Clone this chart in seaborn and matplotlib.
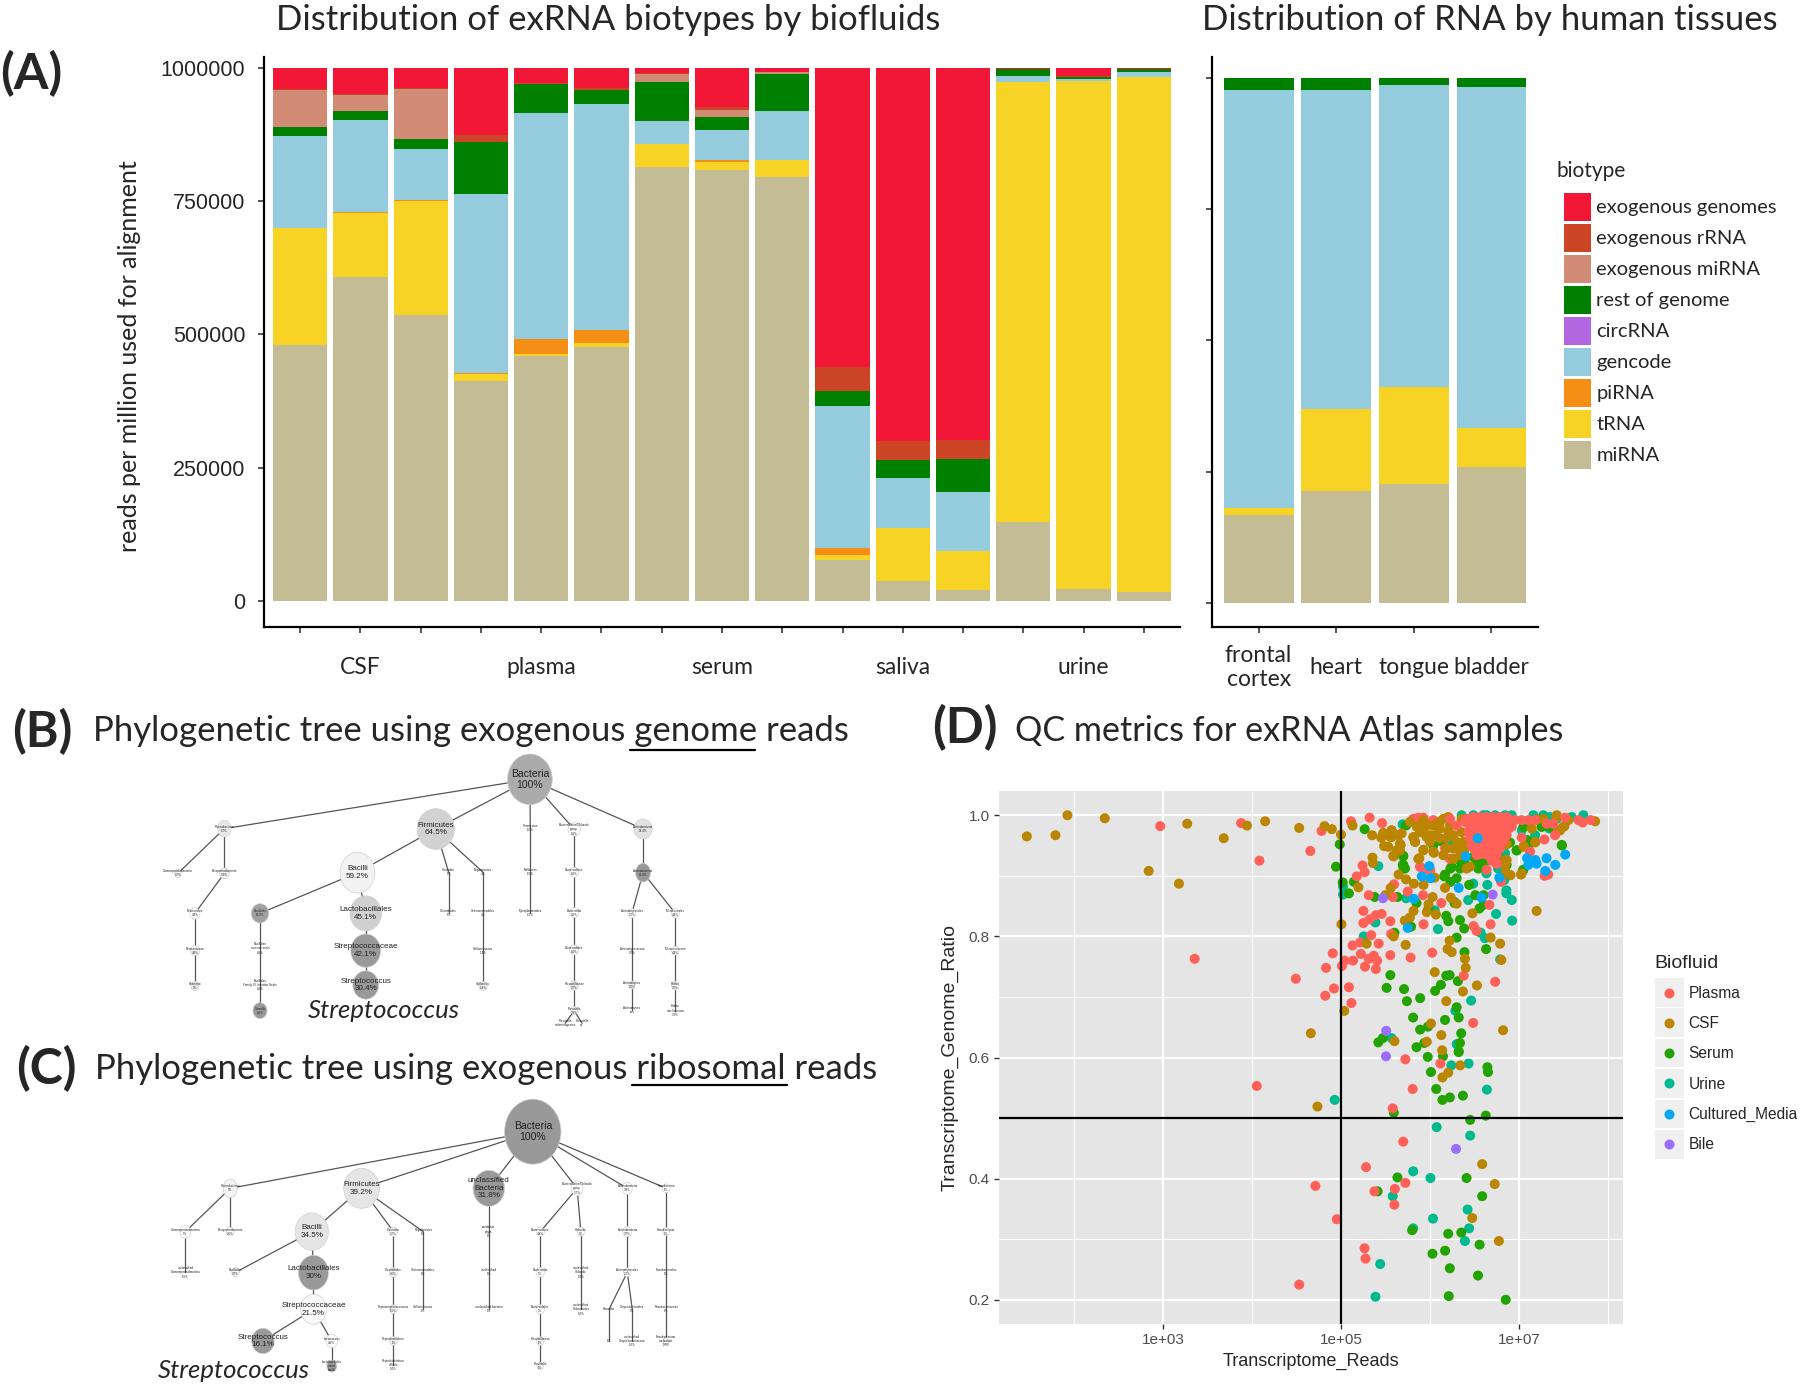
import numpy as np
import pandas as pd
import seaborn as sns
import matplotlib.pyplot as plt
from matplotlib.patches import Ellipse, Rectangle
from matplotlib.ticker import NullFormatter

sns.set_style("white")
plt.rcParams['font.family'] = ['Lato', 'DejaVu Sans']

# --- panel A data ---
biotypes = ['exogenous genomes', 'exogenous rRNA', 'exogenous miRNA', 'rest of genome',
            'circRNA', 'gencode', 'piRNA', 'tRNA', 'miRNA']
biotype_colors = ['#F21736', '#CC4527', '#D28C75', '#008000', '#B266E0',
                  '#94CCDE', '#F58E14', '#F7D325', '#C4BC94']

samples = ['CSF 1', 'CSF 2', 'CSF 3', 'plasma 1', 'plasma 2', 'plasma 3', 'serum 1', 'serum 2',
           'serum 3', 'saliva 1', 'saliva 2', 'saliva 3', 'urine 1', 'urine 2', 'urine 3']
sample_labels = ['', 'CSF', '', '', 'plasma', '', '', 'serum', '', '', 'saliva', '', '', 'urine', '']
mirna = [480000, 607000, 537000, 413000, 459000, 477000, 813000, 808000, 795000, 77500, 36600, 21500, 149000, 23000, 16000]
trna = [219000, 119500, 213000, 13000, 4000, 6000, 43000, 15000, 32000, 8000, 99400, 72500, 824000, 951000, 967000]
pirna = [0, 2000, 2000, 2000, 28000, 25000, 0, 4000, 0, 14500, 0, 0, 0, 0, 0]
gencode = [172000, 173500, 96000, 334000, 423000, 424500, 44000, 56000, 91000, 265000, 94000, 110000, 11000, 5000, 8000]
circrna = [0] * 15
rest = [18000, 17000, 18000, 99000, 55000, 25500, 73000, 24000, 69000, 28000, 35000, 63000, 13000, 3000, 6000]
exo_mirna = [69000, 29000, 94000, 0, 0, 0, 15500, 14000, 5000, 0, 0, 0, 0, 0, 0]
exo_rrna = [1000, 2000, 1000, 12000, 2000, 4000, 500, 5000, 0, 46000, 34000, 34000, 0, 2000, 0]
exo_genomes = [41000, 50000, 39000, 127000, 29000, 38000, 11000, 74000, 8000, 561000, 701000, 699000, 3000, 16000, 3000]

tissues = ['frontal\ncortex', 'heart', 'tongue', 'bladder']
t_mirna = [167000, 212000, 226000, 258500]
t_trna = [14000, 157600, 184600, 74000]
t_gencode = [797000, 608400, 575400, 649500]
t_rest = [22000, 22000, 14000, 18000]

read_ticks = [0, 250000, 500000, 750000, 1000000]

# --- panel D data: (log10 reads, ratio) ---
plasma = [(4.053, .553), (5.806, .548), (5.582, .516), (5.70, .461), (5.282, .419), (4.712, .388), (5.724, .393),
          (5.606, .383), (5.376, .379), (5.60, .357), (4.953, .333), (5.265, .285), (5.276, .268), (4.53, .225),
          (5.724, .597), (6.118, .590), (3.354, .763), (4.492, .730), (4.832, .748), (4.907, .772), (5.01, .751),
          (5.042, .760), (5.135, .760), (4.921, .714), (4.823, .702), (5.089, .716), (5.117, .690), (5.13, .785),
          (5.224, .771), (5.27, .750), (5.392, .746), (5.312, .763), (5.368, .768), (5.406, .760), (5.214, .790),
          (5.424, .788), (5.555, .769), (5.783, .765), (6.026, .773), (5.34, .802), (5.564, .804), (5.252, .822),
          (5.322, .828), (5.457, .837), (5.392, .835), (5.252, .842), (5.555, .825), (5.928, .820), (6.492, .817),
          (6.525, .809), (6.683, .820), (6.38, .735), (6.734, .725), (6.487, .657), (5.312, .868), (5.583, .865),
          (5.923, .868), (6.128, .855), (6.669, .852), (5.751, .874), (5.597, .886), (5.242, .917), (5.266, .906),
          (5.177, .899), (5.918, .912), (6.002, .909), (6.8, .89), (7.289, .90), (7.331, .902), (4.655, .941),
          (4.082, .925), (3.876, .987), (2.967, .982), (4.781, .974), (5.112, .990), (5.322, .996), (5.462, .987),
          (5.813, .994), (5.87, .996), (5.926, .996), (6.001, .986), (6.038, .992), (6.095, .986), (5.926, .91),
          (5.888, .915), (6.001, .91), (6.226, .928), (6.17, .945)]
plasma_core = [(6.226, .994), (6.301, .983), (6.413, .994), (6.488, .997), (6.563, .997), (6.638, .997), (6.713, .997),
               (6.788, .997), (6.863, .997), (6.451, .983), (6.526, .986), (6.601, .986), (6.676, .986), (6.751, .986),
               (6.826, .986), (6.882, .978), (6.488, .972), (6.563, .972), (6.638, .972), (6.713, .972), (6.788, .972),
               (6.863, .967), (6.601, .962), (6.676, .959), (6.751, .962), (6.826, .956), (6.563, .95), (6.638, .947),
               (6.713, .945), (6.507, .942), (6.582, .936), (6.657, .934), (6.751, .934), (6.695, .925), (6.751, .92),
               (6.638, .91), (6.583, .994), (6.658, .992), (6.733, .994), (6.808, .994), (6.883, .994), (6.958, .992),
               (7.033, .992), (7.108, .992), (7.183, .992), (7.314, .986), (7.389, .986), (7.52, .996), (7.67, .992),
               (7.719, .988), (7.809, .992), (7.408, .967), (7.288, .96), (6.601, .978), (6.676, .978), (6.751, .981),
               (6.826, .981), (6.92, .981), (6.639, .964), (6.714, .962), (6.789, .964), (6.62, .953), (6.695, .95),
               (6.77, .95), (6.601, .94), (6.676, .934), (6.751, .92), (7.033, .963), (7.126, .94),
               (6.451, .962), (6.507, .959), (6.432, .972), (6.395, .989), (6.47, .95), (6.563, .962), (6.638, .962),
               (6.713, .959), (6.788, .962), (6.601, .945), (6.676, .945), (6.788, .945), (6.845, .967), (6.526, .934),
               (6.583, .967)]
csf = [(4.735, .519), (6.588, .424), (6.729, .391), (6.476, .335), (6.776, .297), (6.341, .587), (6.206, .575),
       (6.141, .567), (1.466, .965), (1.788, .967), (1.923, 1.0), (2.343, .995), (2.837, .908), (3.177, .887),
       (3.27, .986), (3.681, .962), (3.942, .983), (4.147, .99), (4.529, .979), (4.814, .982), (4.897, .977),
       (5.0, .968), (5.005, .820), (5.037, .677), (4.66, .640), (5.13, .983), (5.35, .967), (5.196, .881),
       (5.559, .880), (5.499, .868), (5.816, .842), (5.774, .831), (5.718, .826), (5.965, .840), (5.984, .853),
       (6.068, .836), (6.03, .865), (6.17, .88), (6.478, .838), (7.2, .842), (5.592, .80), (5.289, .788),
       (5.727, .786), (6.221, .793), (6.198, .779), (6.245, .774), (6.683, .798), (6.79, .788), (6.394, .763),
       (6.804, .761), (6.403, .748), (6.054, .741), (6.529, .719), (6.371, .709), (6.184, .693), (6.012, .656),
       (6.128, .637), (5.965, .626), (5.601, .627), (6.138, .612), (6.823, .645),
       (5.57, .975), (5.57, .964), (5.682, .97), (5.663, .953), (5.663, .942), (5.626, .942), (5.588, .933),
       (5.813, .964), (5.832, .956), (5.926, .942), (5.87, .928), (5.776, .989), (5.851, .981), (5.926, .992),
       (6.001, .967), (6.001, .956), (6.057, .967), (6.038, .94), (6.151, .934), (6.113, .978), (6.226, .983),
       (6.207, .972), (6.301, .956), (6.32, .945), (6.263, .928), (6.357, .994), (6.151, .994), (6.413, .912),
       (6.451, .915), (6.038, .983), (6.207, .997), (7.858, .99), (7.426, 1.0), (7.558, .992), (7.276, .994),
       (7.201, .993), (7.145, .978), (7.501, .981), (7.464, .975), (6.864, .952), (7.051, .948), (7.183, .955),
       (6.864, .926), (6.845, .918), (6.845, .904), (7.033, .904), (5.476, .971), (5.569, .975), (5.452, .963),
       (5.555, .964), (5.485, .949), (5.531, .948), (5.671, .951), (5.657, .942), (5.592, .932), (5.354, .93),
       (5.359, .921), (5.648, .902), (5.732, .894), (5.82, .887), (5.928, .885), (6.054, .897), (5.881, .929),
       (5.816, .963), (5.834, .956), (5.928, .943), (6.044, .938), (5.648, .967), (6.235, .864), (6.301, .854),
       (7.023, .902), (6.907, .901), (6.86, .905), (6.851, .926), (6.86, .953), (7.056, .949), (7.186, .956),
       (7.443, .975), (7.513, .982), (7.42, .997), (6.113, .989), (6.188, .962), (6.113, .962), (6.263, .967),
       (6.357, .972), (6.376, .956), (6.395, .945), (5.926, .978), (5.963, .964), (5.963, .983), (5.888, .972),
       (6.263, .945), (6.338, .934), (6.188, .945)]
serum = [(5.594, .509), (6.453, .497), (6.629, .504), (5.635, .402), (6.412, .401), (5.412, .379), (6.588, .371),
         (5.80, .315), (6.206, .309), (6.353, .311), (6.559, .291), (6.171, .281), (6.029, .276), (6.224, .252),
         (6.541, .240), (6.212, .206), (6.853, .200), (6.071, .548), (6.224, .534), (6.141, .530), (6.371, .537),
         (6.012, .576), (6.647, .584), (6.653, .576), (5.976, .601), (6.147, .602), (6.324, .609),
         (4.986, .952), (4.944, .915), (5.266, .977), (5.019, .889), (5.145, .89), (5.089, .871), (5.378, .865),
         (5.634, .865), (5.849, .855), (5.699, .932), (5.695, .918), (5.704, .912), (6.128, .957), (6.487, .96),
         (6.231, .912), (6.161, .899), (6.977, .942), (7.047, .909), (7.485, .95), (5.984, .846), (6.184, .834),
         (6.207, .825), (6.338, .827), (6.385, .813), (5.788, .816), (6.301, .798), (5.601, .806), (6.389, .774),
         (6.632, .779), (5.555, .736), (6.184, .735), (6.221, .736), (6.315, .726), (6.124, .720), (6.058, .710),
         (5.513, .715), (5.709, .713), (5.741, .693), (5.89, .698), (6.301, .683), (6.324, .666), (5.811, .666),
         (6.17, .662), (5.979, .651), (5.89, .646), (6.352, .64), (5.471, .632), (5.42, .625), (5.849, .617),
         (5.937, .624), (6.338, .624), (6.324, .61), (7.483, .951), (6.976, .942), (7.051, .981), (7.258, .981),
         (6.901, .955), (6.77, .931), (6.601, .915), (7.051, .91), (7.351, .981), (7.108, .951), (6.62, .923),
         (5.731, .983), (6.132, .957), (5.701, .933), (5.701, .918), (5.72, .912), (6.038, .95), (6.488, .959),
         (6.488, .931), (6.338, .925), (6.395, .92), (6.526, .92), (6.245, .915), (6.17, .902), (6.582, .923),
         (6.77, .931), (6.788, .923), (6.863, .918), (6.338, .912), (6.545, .912), (6.231, .89), (6.301, .896),
         (6.441, .885), (6.511, .868), (6.604, .868), (6.277, .855), (6.557, .846), (6.604, .852), (7.256, .981),
         (7.093, .959)]
urine = [(4.929, .530), (6.076, .485), (6.453, .471), (5.812, .412), (6.006, .401), (5.582, .371), (6.424, .349),
         (6.035, .334), (6.441, .318), (5.812, .318), (6.394, .297), (5.441, .259), (5.388, .205), (6.641, .547),
         (6.241, .587), (6.435, .590), (5.42, .916), (5.023, .882), (5.023, .869), (5.732, .863), (6.091, .812),
         (6.054, .843), (5.387, .823), (5.256, .80), (6.571, .806), (6.618, .797), (6.744, .837), (6.925, .826),
         (6.921, .86), (6.79, .762), (6.464, .694), (6.287, .677), (6.301, .622), (5.569, .632), (7.726, 1.0),
         (7.595, .997), (7.426, .994), (7.276, 1.0), (6.92, 1.0), (6.845, 1.0), (6.733, 1.0), (6.639, 1.0),
         (7.164, 1.0), (7.351, .997), (7.183, .967), (7.033, .975), (6.845, .937), (6.77, .912), (7.344, .978),
         (5.693, .985), (6.245, .953), (6.357, 1.0), (6.488, 1.0), (6.601, 1.0), (6.86, .876), (6.86, .871),
         (6.837, .893), (6.646, .885), (6.636, .904), (6.767, .912), (6.431, .86), (6.487, .887), (6.277, .857),
         (6.837, .938)]
cultured = [(6.538, .962), (6.403, .932), (5.993, .916), (5.909, .899), (6.007, .896), (6.324, .88), (5.82, .862),
            (6.58, .864), (5.751, .814), (6.781, .897), (7.093, .929), (7.107, .918), (7.186, .926), (7.2, .92),
            (7.312, .929), (7.298, .908), (7.41, .918), (7.522, .935)]
bile = [(6.294, .449), (5.506, .602), (5.471, .863), (6.706, .869), (5.508, .644)]

biofluids = ['Plasma', 'CSF', 'Serum', 'Urine', 'Cultured_Media', 'Bile']
biofluid_colors = ['#FF6058', '#BA8500', '#22A300', '#00B98E', '#00A8F5', '#9A6DFF']

# --- panels B and C: id, parent, x, y, width, height, fill, label (crop units, no scale in the source) ---
tree_b = [
    ('root', None, 1037, 118, 108, 152, '#ABABAB', 'Bacteria\n100%'),
    ('prot', 'root', 300, 266, 32, 50, '#E8E8E8', 'Proteobacteria\n6.7%'),
    ('firm', 'root', 810, 267, 90, 122, '#D2D2D2', 'Firmicutes\n64.5%'),
    ('tene', 'root', 1038, 265, 0, 0, '', 'Tenericutes\n1.5%'),
    ('bctd', 'root', 1144, 268, 30, 40, '#FFFFFF', 'Bacteroidetes/Chlorobi\ngroup\n8.1%'),
    ('actp', 'root', 1310, 267, 44, 60, '#E2E2E2', 'Actinobacteria\n14.4%'),
    ('gamm', 'prot', 188, 400, 16, 25, '#F5F5F5', 'Gammaproteobacteria\n0.7%'),
    ('beta', 'prot', 300, 400, 24, 32, '#F0F0F0', 'Betaproteobacteria\n5.9%'),
    ('nei1', 'beta', 229, 520, 24, 34, '#FFFFFF', 'Neisseriales\n4.9%'),
    ('nei2', 'nei1', 229, 632, 22, 30, '#F5F5F5', 'Neisseriaceae\n4.9%'),
    ('nei3', 'nei2', 229, 738, 20, 28, '#E8E8E8', 'Neisseria\n3%'),
    ('baci', 'firm', 621, 398, 84, 122, '#F2F2F2', 'Bacilli\n59.2%'),
    ('clos', 'firm', 841, 397, 0, 0, '', 'Clostridia\n1%'),
    ('neg1', 'firm', 924, 397, 0, 0, '', 'Negativicutes\n4%'),
    ('clo2', 'clos', 841, 518, 0, 0, '', 'Clostridiales\n1%'),
    ('neg2', 'neg1', 924, 520, 0, 0, '', 'Selenomonadales\n4%'),
    ('neg3', 'neg2', 924, 632, 0, 0, '', 'Veillonellaceae\n1.4%'),
    ('neg4', 'neg3', 924, 738, 20, 26, '#F0F0F0', 'Veillonella\n1.4%'),
    ('lact', 'baci', 641, 520, 76, 105, '#D0D0D0', 'Lactobacillales\n45.1%'),
    ('stcc', 'lact', 641, 632, 72, 100, '#9A9A9A', 'Streptococcaceae\n42.1%'),
    ('stre', 'stcc', 641, 735, 62, 85, '#999999', 'Streptococcus\n30.4%'),
    ('bacl', 'baci', 386, 520, 42, 58, '#A0A0A0', 'Bacillales\n13.0%'),
    ('bac2', 'bacl', 386, 625, 0, 0, '', 'Bacillales\nincertae sedis\n8.6%'),
    ('bac3', 'bac2', 386, 735, 0, 0, '', 'Bacillales\nFamily XI. Incertae Sedis\n8.6%'),
    ('geme', 'bac3', 386, 812, 34, 48, '#999999', 'Gemella\n8.6%'),
    ('ten2', 'tene', 1038, 397, 0, 0, '', 'Mollicutes\n1.5%'),
    ('ten3', 'ten2', 1038, 518, 0, 0, '', 'Mycoplasmatales\n1.5%'),
    ('bc2', 'bctd', 1144, 397, 22, 30, '#FFFFFF', 'Bacteroidetes\n8.1%'),
    ('bc3', 'bc2', 1144, 518, 22, 30, '#FFFFFF', 'Bacteroidia\n8.0%'),
    ('bc4', 'bc3', 1144, 630, 22, 30, '#F5F5F5', 'Bacteroidales\n8.0%'),
    ('bc5', 'bc4', 1144, 737, 20, 28, '#F0F0F0', 'Prevotellaceae\n3.7%'),
    ('bc6', 'bc5', 1144, 812, 18, 24, '#F0F0F0', 'Prevotella\n3.3%'),
    ('bc7', 'bc6', 1122, 850, 0, 0, '', 'Prevotella\nmelaninogenica'),
    ('bc8', 'bc6', 1163, 850, 0, 0, '', 'Prevotella\nsp.'),
    ('act2', 'actp', 1310, 398, 36, 56, '#999999', 'Actinobacteria\n12.8%'),
    ('act3', 'act2', 1283, 520, 20, 28, '#FFFFFF', 'Actinomycetales\n0.7%'),
    ('act4', 'act3', 1283, 632, 0, 0, '', 'Actinomycetaceae\n0.7%'),
    ('act5', 'act4', 1283, 735, 16, 24, '#F0F0F0', 'Actinomyces\n0.7%'),
    ('act6', 'act5', 1283, 810, 0, 0, '', 'Actinomyces\noris'),
    ('mic1', 'act2', 1388, 520, 20, 28, '#FFFFFF', 'Micrococcales\n4.4%'),
    ('mic2', 'mic1', 1388, 632, 18, 26, '#FFFFFF', 'Micrococcaceae\n4.4%'),
    ('mic3', 'mic2', 1388, 737, 18, 26, '#F5F5F5', 'Rothia\n3.7%'),
    ('mic4', 'mic3', 1388, 812, 0, 0, '', 'Rothia\nmucilaginosa\n3.6%'),
]
tree_c = [
    ('root', None, 1044, 155, 136, 195, '#999999', 'Bacteria\n100%'),
    ('prot', 'root', 314, 325, 34, 55, '#F5F5F5', 'Proteobacteria\n9%'),
    ('firm', 'root', 631, 325, 86, 120, '#E5E5E5', 'Firmicutes\n39.2%'),
    ('uncl', 'root', 938, 325, 76, 108, '#999999', 'unclassified\nBacteria\n31.8%'),
    ('bctd', 'root', 1151, 325, 28, 44, '#FFFFFF', 'Bacteroidetes/Chlorobi\ngroup\n5.7%'),
    ('actp', 'root', 1272, 325, 24, 36, '#FFFFFF', 'Actinobacteria\n3.8%'),
    ('fuso', 'root', 1366, 325, 18, 26, '#FFFFFF', 'Fusobacteria\n1%'),
    ('gamm', 'prot', 206, 455, 26, 40, '#FFFFFF', 'Gammaproteobacteria\n3%'),
    ('beta', 'prot', 314, 455, 18, 26, '#FFFFFF', 'Betaproteobacteria\n2.6%'),
    ('gam2', 'gamm', 206, 577, 0, 0, '', 'unclassified\nGammaproteobacteria\n1.6%'),
    ('baci', 'firm', 511, 455, 80, 112, '#E5E5E5', 'Bacilli\n34.5%'),
    ('clos', 'firm', 708, 455, 20, 28, '#FFFFFF', 'Clostridia\n2.7%'),
    ('nega', 'firm', 780, 455, 0, 0, '', 'Negativicutes\n1%'),
    ('bacl', 'baci', 327, 577, 18, 28, '#F5F5F5', 'Bacillales\n3.7%'),
    ('lact', 'baci', 515, 578, 72, 104, '#999999', 'Lactobacillales\n30%'),
    ('stcc', 'lact', 515, 688, 62, 90, '#FAFAFA', 'Streptococcaceae\n21.5%'),
    ('stre', 'stcc', 393, 783, 54, 76, '#999999', 'Streptococcus\n16.1%'),
    ('st2', 'stcc', 559, 783, 28, 40, '#FFFFFF', 'Lactococcus\n4.6%'),
    ('st3', 'st2', 559, 858, 24, 36, '#999999', 'Lactobacillales\nnoted\nbacilli'),
    ('cl2', 'clos', 708, 577, 20, 28, '#F5F5F5', 'Clostridiales\n2.6%'),
    ('cl3', 'cl2', 708, 688, 18, 26, '#F5F5F5', 'Peptostreptococcaceae\n1.5%'),
    ('cl4', 'cl3', 708, 783, 18, 26, '#F5F5F5', 'Peptoclostridium\n1%'),
    ('cl5', 'cl4', 708, 855, 0, 0, '', 'Peptoclostridium\ndifficile\n1.0%'),
    ('ne2', 'nega', 780, 577, 0, 0, '', 'Selenomonadales\n1%'),
    ('ne3', 'ne2', 780, 688, 0, 0, '', 'Veillonellaceae\n1%'),
    ('un2', 'uncl', 938, 455, 0, 0, '', 'candidate\nphyla\n1%'),
    ('un3', 'un2', 938, 577, 0, 0, '', 'unclassified\n1%'),
    ('un4', 'un3', 938, 688, 0, 0, '', 'unclassified bacteria\n1%'),
    ('bc2', 'bctd', 1062, 455, 20, 28, '#FFFFFF', 'Bacteroidetes\n4.4%'),
    ('bc3', 'bc2', 1062, 577, 20, 28, '#FFFFFF', 'Bacteroidia\n3%'),
    ('bc4', 'bc3', 1062, 688, 20, 28, '#FFFFFF', 'Bacteroidales\n3%'),
    ('bc5', 'bc4', 1062, 783, 18, 26, '#F5F5F5', 'Prevotellaceae\n1%'),
    ('bc6', 'bc5', 1062, 858, 16, 22, '#F5F5F5', 'Prevotella\n1%'),
    ('chl', 'bctd', 1160, 455, 18, 26, '#FFFFFF', 'Chlorobi\n1%'),
    ('ch2', 'chl', 1160, 577, 0, 0, '', 'unclassified\nChlorobi\n1.0%'),
    ('ch3', 'ch2', 1160, 688, 0, 0, '', 'unclassified\nChlorobiales\n1.0%'),
    ('ac2', 'actp', 1272, 455, 22, 30, '#FFFFFF', 'Actinobacteria\n3.7%'),
    ('ac3', 'ac2', 1272, 577, 18, 26, '#FFFFFF', 'Actinomycetales\n2.7%'),
    ('ac4', 'ac3', 1228, 688, 0, 0, '', 'Nocardia'),
    ('ac5', 'ac3', 1284, 688, 0, 0, '', 'Corynebacteriales\n1%'),
    ('ac6', 'ac4', 1228, 783, 0, 0, '', '1%'),
    ('ac7', 'ac5', 1284, 783, 0, 0, '', 'unclassified\nCorynebacteriaceae\n1.0%'),
    ('fu2', 'fuso', 1366, 455, 16, 24, '#FFFFFF', 'Fusobacteriia\n1%'),
    ('fu3', 'fu2', 1366, 577, 0, 0, '', 'Fusobacteriales\n1%'),
    ('fu4', 'fu3', 1366, 688, 0, 0, '', 'Fusobacteriaceae\n1%'),
    ('fu5', 'fu4', 1366, 783, 14, 20, '#F5F5F5', 'Fusobacterium\nnucleatum\n1.0%'),
]


def px_axes(fig, left, top, right, bottom):
    # axes placed by the pixel box it has in the 1800x1387 picture
    return fig.add_axes([left / 1800, 1 - bottom / 1387, (right - left) / 1800, (bottom - top) / 1387])


def stacked_bars(ax, names, layers, labels, ticks_font=16.5):
    rows = []
    for biotype, values in layers.items():
        rows.append(pd.DataFrame({'sample': names, 'biotype': biotype, 'reads': values}))
    long_df = pd.concat(rows, ignore_index=True)
    long_df['sample'] = pd.Categorical(long_df['sample'], categories=names, ordered=True)
    sns.histplot(data=long_df, x='sample', hue='biotype', weights='reads', multiple='stack', discrete=True,
                 shrink=0.9, hue_order=biotypes, palette=dict(zip(biotypes, biotype_colors)), alpha=1,
                 linewidth=0, ax=ax)
    ax.set_xlim(-0.6, len(names) - 0.4)
    ax.set_xticks(range(len(names)), labels=labels, fontsize=ticks_font)
    ax.set_xlabel('')
    ax.tick_params(axis='x', length=4, width=1.1, pad=25, bottom=True)
    ax.tick_params(axis='y', length=4, width=1.1, pad=9.5, left=True)
    for label in ax.get_xticklabels():
        label.set_va('center')
    sns.despine(ax=ax)
    for side in ['left', 'bottom']:
        ax.spines[side].set_linewidth(1.6)
        ax.spines[side].set_color('black')


def draw_tree(fig, left, top, nodes):
    ax = px_axes(fig, left, top, left + 650, top + 300)
    ax.set_xlim(0, 1568)
    ax.set_ylim(900, 0)
    ax.axis('off')
    ax.patch.set_alpha(0)
    spots = {n[0]: n for n in nodes}
    for name, parent, x, y, w, h, fill, label in nodes:
        if parent is not None:
            ax.plot([spots[parent][2], x], [spots[parent][3], y], color='#555555', lw=0.9, zorder=1)
    for name, parent, x, y, w, h, fill, label in nodes:
        if w > 0:
            ax.add_patch(Ellipse((x, y), w, h, facecolor=fill, edgecolor='#D0D0D0', lw=0.5, zorder=2))
        size = 2.2 if w <= 45 else (5.8 if w < 100 else 7.5)
        ax.text(x, y, label, ha='center', va='center', fontsize=size, color='#222222',
                family='Liberation Sans', zorder=3, linespacing=1.1)


fig = plt.figure(figsize=(18, 13.87), dpi=100)

# overlay in picture pixels, for the headings and panel letters
page = fig.add_axes([0, 0, 1, 1], zorder=0)
page.set_xlim(0, 1800)
page.set_ylim(1387, 0)
page.axis('off')

# --- panel A, biofluids ---
ax_a = px_axes(fig, 264, 57, 1180, 627)
ax_a.set_zorder(2)
stacked_bars(ax_a, samples, dict(zip(biotypes, [exo_genomes, exo_rrna, exo_mirna, rest, circrna, gencode,
                                                pirna, trna, mirna])), sample_labels)
ax_a.set_ylim(-48700, 1019700)
ax_a.set_yticks(read_ticks, labels=[str(v) for v in read_ticks], fontsize=15.5, family='Liberation Sans')
ax_a.set_ylabel('reads per million used for alignment', fontsize=18)
ax_a.yaxis.set_label_coords(-0.1345, 0.475)
sns.move_legend(ax_a, 'upper left', bbox_to_anchor=(1564 / 1800, 1 - 193 / 1387), bbox_transform=fig.transFigure,
                title='', frameon=False, prop={'family': 'Lato', 'size': 14.5}, handlelength=1.35, handleheight=1.75,
                handletextpad=0.25, labelspacing=0.155, borderpad=0, borderaxespad=0)

# --- panel A, tissues ---
ax_t = px_axes(fig, 1212, 57, 1538, 627)
ax_t.set_zorder(2)
stacked_bars(ax_t, tissues, dict(zip(biotypes, [[0] * 4, [0] * 4, [0] * 4, t_rest, [0] * 4, t_gencode,
                                                [0] * 4, t_trna, t_mirna])), tissues)
ax_t.get_legend().remove()
ax_t.set_ylim(-46300, 1040000)
ax_t.set_yticks(read_ticks, labels=[])
ax_t.set_ylabel('')

# --- panel D ---
ax_d = px_axes(fig, 999, 790.7, 1623, 1324)
ax_d.set_zorder(2)
qc_rows = [(urine, 'Urine'), (serum, 'Serum'), (plasma, 'Plasma'), (csf, 'CSF'), (plasma_core, 'Plasma'),
           (cultured, 'Cultured_Media'), (bile, 'Bile')]
qc = pd.concat([pd.DataFrame(points, columns=['log_reads', 'Transcriptome_Genome_Ratio']).assign(Biofluid=fluid)
                for points, fluid in qc_rows], ignore_index=True)
qc['Transcriptome_Reads'] = 10 ** qc['log_reads']
sns.scatterplot(data=qc, x='Transcriptome_Reads', y='Transcriptome_Genome_Ratio', hue='Biofluid',
                hue_order=biofluids, palette=dict(zip(biofluids, biofluid_colors)), s=52, linewidth=0, ax=ax_d)
ax_d.set_xscale('log')
ax_d.set_xlim(10 ** 1.153, 10 ** 8.172)
ax_d.set_ylim(0.16, 1.0405)
ax_d.set_facecolor('#E5E5E5')
for spine in ax_d.spines.values():
    spine.set_visible(False)
ax_d.set_xticks([1e3, 1e5, 1e7], labels=['1e+03', '1e+05', '1e+07'], fontsize=11, family='Liberation Sans', color='#4D4D4D')
ax_d.set_xticks([1e2, 1e4, 1e6, 1e8], minor=True)
ax_d.xaxis.set_minor_formatter(NullFormatter())
ax_d.set_yticks([0.2, 0.4, 0.6, 0.8, 1.0], labels=['0.2', '0.4', '0.6', '0.8', '1.0'], fontsize=11,
                family='Liberation Sans', color='#4D4D4D')
ax_d.set_yticks([0.3, 0.5, 0.7, 0.9], minor=True)
ax_d.grid(which='major', color='white', lw=1.6)
ax_d.grid(which='minor', color='white', lw=0.8)
ax_d.set_axisbelow(True)
ax_d.tick_params(which='major', length=3.5, width=1, color='#333333', pad=3, bottom=True, left=True)
ax_d.tick_params(which='minor', length=0)
ax_d.axvline(1e5, color='black', lw=1.6)
ax_d.axhline(0.5, color='black', lw=1.6)
ax_d.set_xlabel('Transcriptome_Reads', fontsize=13, family='Liberation Sans')
ax_d.set_ylabel('Transcriptome_Genome_Ratio', fontsize=14, family='Liberation Sans')
ax_d.yaxis.set_label_coords(-0.064, 0.5)
ax_d.xaxis.set_label_coords(0.5, -0.0694)
ax_d.xaxis.label.set_va('center')
sns.move_legend(ax_d, 'upper left', bbox_to_anchor=(1654.5 / 1800, 1 - 986 / 1387), bbox_transform=fig.transFigure,
                title='', frameon=False, prop={'family': 'Liberation Sans', 'size': 11.2}, handlelength=1.9,
                handletextpad=0.3, labelspacing=0.98, borderpad=0, borderaxespad=0)
for i in range(len(biofluids)):
    page.add_patch(Rectangle((1655, 978 + 30.4 * i), 28.5, 28.5, facecolor='#F0F0F0', edgecolor='none'))

# --- trees ---
draw_tree(fig, 100, 740, tree_b)
draw_tree(fig, 100, 1080, tree_c)

# --- headings ---
page.text(608, 20, 'Distribution of exRNA biotypes by biofluids', ha='center', va='center', fontsize=25)
page.text(1490, 20, 'Distribution of RNA by human tissues', ha='center', va='center', fontsize=25)
page.text(1557, 171, 'biotype', ha='left', va='center', fontsize=15)
page.text(1654, 963, 'Biofluid', ha='left', va='center', fontsize=14, family='Liberation Sans')
for letter, x, y in [('(A)', 0, 74), ('(B)', 12, 732), ('(C)', 16, 1069), ('(D)', 932, 728)]:
    page.text(x, y, letter, ha='left', va='center', fontsize=36, fontweight='bold')
page.text(93, 731, 'Phylogenetic tree using exogenous genome reads', ha='left', va='center', fontsize=25)
page.text(95, 1069, 'Phylogenetic tree using exogenous ribosomal reads', ha='left', va='center', fontsize=25)
page.text(1015, 731, 'QC metrics for exRNA Atlas samples', ha='left', va='center', fontsize=24.6)
page.plot([630, 755], [750, 750], color='black', lw=1.6)
page.plot([632, 787], [1085, 1085], color='black', lw=1.6)
page.text(308, 1011, 'Streptococcus', ha='left', va='center', fontsize=18.5, style='italic')
page.text(158, 1371, 'Streptococcus', ha='left', va='center', fontsize=18.5, style='italic')

fig.savefig('out.png', dpi=100)
